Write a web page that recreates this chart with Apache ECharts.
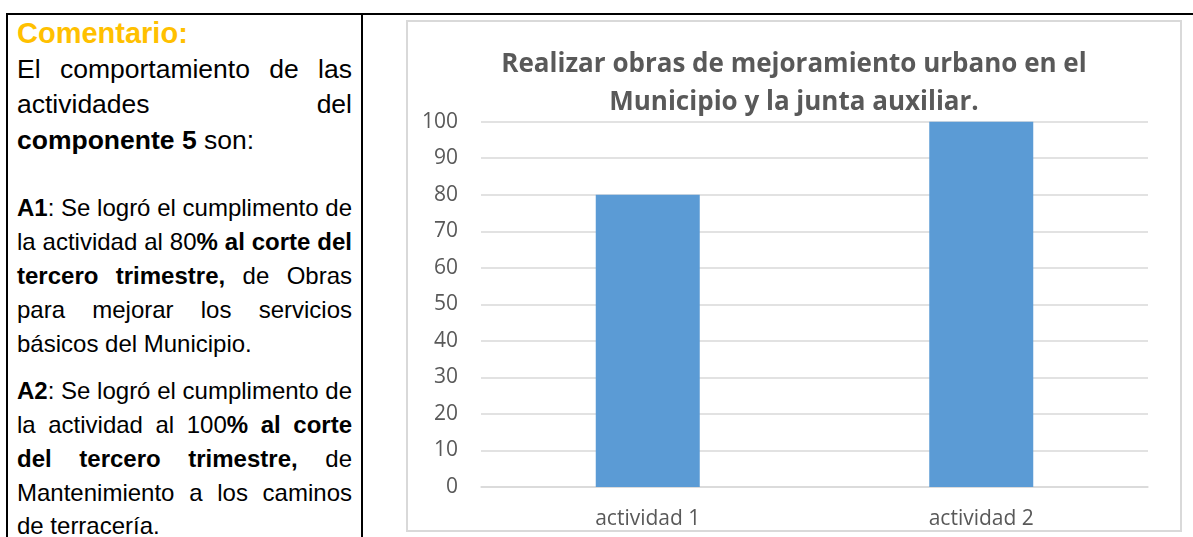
<!DOCTYPE html>
<html>
<head>
<meta charset="utf-8">
<script src="https://cdn.jsdelivr.net/npm/echarts@6/dist/echarts.min.js"></script>
<style>
  html, body { margin: 0; padding: 0; background: #fff; }
  body { width: 1193px; height: 537px; position: relative; overflow: hidden; }
  .rule { position: absolute; background: #000; }
  .ln { position: absolute; left: 17px; width: 335px; line-height: 30px; height: 30px;
        font-family: "Liberation Sans", Arial, sans-serif; color: #000; white-space: nowrap; }
  .j { text-align: justify; text-align-last: justify; }
  .l { text-align: left; }
  .p1 { font-size: 26.5px; }
  .p2 { font-size: 24px; }
  b { font-weight: bold; }
  #box { position: absolute; left: 406px; top: 20px; width: 776px; height: 512px;
         border: 2px solid #d9d9d9; box-sizing: border-box; }
  #chart { position: absolute; left: 0; top: 0; width: 772px; height: 508px; }
</style>
</head>
<body>
<div class="rule" style="left:6px;top:13px;width:1187px;height:2px"></div>
<div class="rule" style="left:6px;top:13px;width:2px;height:524px"></div>
<div class="rule" style="left:361px;top:13px;width:2px;height:524px"></div>

<div class="ln l" style="top:17.6px;font-size:29px;font-weight:bold;color:#FFC000">Comentario:</div>
<div class="ln j p1" style="top:53.8px">El comportamiento de las</div>
<div class="ln j p1" style="top:89.3px">actividades del</div>
<div class="ln l p1" style="top:124.8px"><b>componente 5</b> son:</div>

<div class="ln j p2" style="top:193.4px"><b>A1</b>: Se logró el cumplimento de</div>
<div class="ln j p2" style="top:227.4px">la actividad al 80<b>% al corte del</b></div>
<div class="ln j p2" style="top:261.4px"><b>tercero trimestre,</b> de Obras</div>
<div class="ln j p2" style="top:295.4px">para mejorar los servicios</div>
<div class="ln l p2" style="top:329.4px">básicos del Municipio.</div>

<div class="ln j p2" style="top:375.5px"><b>A2</b>: Se logró el cumplimento de</div>
<div class="ln j p2" style="top:409.5px">la actividad al 100<b>% al corte</b></div>
<div class="ln j p2" style="top:443.5px"><b>del tercero trimestre,</b> de</div>
<div class="ln j p2" style="top:477.5px">Mantenimiento a los caminos</div>
<div class="ln l p2" style="top:511px">de terracería.</div>

<div id="box"><div id="chart"></div></div>

<script>
const titleText = 'Realizar obras de mejoramiento urbano en el\nMunicipio y la junta auxiliar.';
const categories = ['actividad 1', 'actividad 2'];
const values = [80, 100];
const yMin = 0, yMax = 100, yStep = 10;

const chart = echarts.init(document.getElementById('chart'), null, { renderer: 'canvas' });
chart.setOption({
  animation: false,
  title: {
    text: titleText,
    left: 'center',
    top: 24,
    padding: 0,
    textStyle: {
      fontFamily: '"Open Sans"',
      fontSize: 26,
      fontWeight: 'bold',
      color: '#595959',
      lineHeight: 38
    }
  },
  grid: { left: 73, right: 32, top: 99.7, bottom: 42.7, containLabel: false },
  xAxis: {
    type: 'category',
    data: categories,
    axisLine: { show: true, lineStyle: { color: '#d9d9d9', width: 1.5 } },
    axisTick: { show: false },
    axisLabel: {
      margin: 22,
      fontFamily: '"Open Sans"',
      fontSize: 21,
      lineHeight: 21,
      color: '#595959'
    }
  },
  yAxis: {
    type: 'value',
    min: yMin,
    max: yMax,
    interval: yStep,
    axisLine: { show: false },
    axisTick: { show: false },
    splitLine: { lineStyle: { color: '#d9d9d9', width: 1.5 } },
    axisLabel: {
      margin: 23,
      fontFamily: '"Open Sans"',
      fontSize: 21,
      color: '#595959'
    }
  },
  series: [{
    type: 'bar',
    data: values,
    barWidth: 104,
    itemStyle: { color: '#5B9BD5' }
  }]
});
</script>
</body>
</html>
